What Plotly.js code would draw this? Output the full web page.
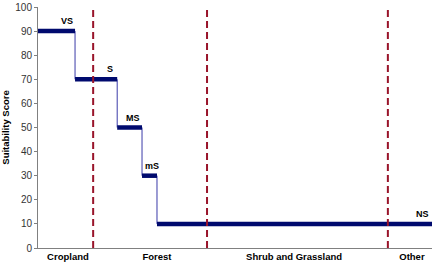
<!DOCTYPE html>
<html><head><meta charset="utf-8">
<script src="https://cdn.plot.ly/plotly-3.0.1.min.js"></script>
<style>html,body{margin:0;padding:0;background:#fff}#c{width:433px;height:267px}</style>
</head><body><div id="c"></div>
<script>
// Step boundaries along the land-cover gradient (axis units 0-100)
const stepStart = [0, 9.4, 20.1, 26.4, 30.2];
const stepEnd   = [9.4, 20.1, 26.4, 30.2, 100];
const scores    = [90, 70, 50, 30, 10];
const classes   = ["VS", "S", "MS", "mS", "NS"];
const classLabelX = [7.4, 18.3, 24.1, 28.9, 97.7];
const dividers  = [14.0, 42.9, 88.8];
const categories = ["Cropland", "Forest", "Shrub and Grassland", "Other"];
const categoryX  = [7.6, 30.2, 65.0, 94.9];

const hx = [], hy = [], vx = [], vy = [];
for (let i = 0; i < scores.length; i++) {
  hx.push(stepStart[i], stepEnd[i], null);
  hy.push(scores[i], scores[i], null);
  if (i > 0) { vx.push(stepStart[i], stepStart[i], null); vy.push(scores[i-1], scores[i], null); }
}
const traces = [
  {x: vx, y: vy, mode: 'lines', line: {color: '#3a3aa8', width: 1}, hoverinfo: 'skip', cliponaxis: false},
  {x: hx, y: hy, mode: 'lines', line: {color: '#000a6e', width: 4.5}, hoverinfo: 'skip', cliponaxis: false}
];
const shapes = dividers.map(d => ({type: 'line', xref: 'x', yref: 'y', x0: d, x1: d, y0: 0, y1: 99,
  line: {color: '#99142a', width: 2, dash: '7px,4px'}}));
const annotations = classes.map((c, i) => ({x: classLabelX[i], y: scores[i], text: '<b>' + c + '</b>',
  showarrow: false, yanchor: 'bottom', yshift: 3, font: {family: 'Liberation Sans, Arial', size: 9, color: '#000'}}));

Plotly.newPlot('c', traces, {
  width: 433, height: 267, showlegend: false,
  margin: {l: 38, r: 1, t: 7, b: 19},
  paper_bgcolor: '#fff', plot_bgcolor: '#fff',
  xaxis: {range: [0, 100], showgrid: false, zeroline: false, showline: true, linecolor: '#808080', linewidth: 1,
    tickvals: categoryX, ticktext: categories.map(c => '<b>' + c + '</b>'), ticks: '', ticklen: 0,
    tickfont: {family: 'Liberation Sans, Arial', size: 9.5, color: '#000'}},
  yaxis: {range: [0, 100], dtick: 10, showgrid: false, zeroline: false, showline: true, linecolor: '#808080', linewidth: 1,
    ticks: 'outside', ticklen: 3, tickcolor: '#808080',
    tickfont: {family: 'Liberation Sans, Arial', size: 10, color: '#333'},
    title: {text: '<b>Suitability Score</b>', standoff: 4, font: {family: 'Liberation Sans, Arial', size: 9.5, color: '#000'}}},
  shapes: shapes, annotations: annotations
}, {staticPlot: true});
</script></body></html>
